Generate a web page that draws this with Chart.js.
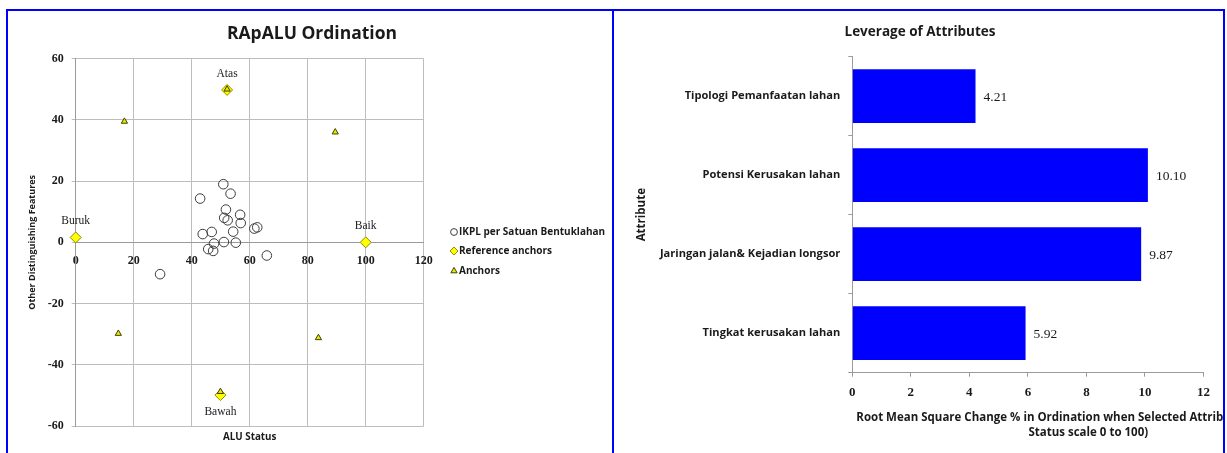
<!DOCTYPE html>
<html>
<head>
<meta charset="utf-8">
<title>RApALU</title>
<script src="https://cdn.jsdelivr.net/npm/chart.js@4.4.1/dist/chart.umd.min.js"></script>
<style>
  body { margin: 0; background: #fff; width: 1227px; height: 453px; overflow: hidden; position: relative; }
  .panel { position: absolute; top: 9px; height: 460px; border: 2px solid #0000ff; border-bottom: none; background: #fff; }
  #panelLeft { left: 6px; width: 604px; }
  #panelRight { left: 612px; width: 609px; }
  canvas { display: block; }
</style>
</head>
<body>
<div class="panel" id="panelLeft"><canvas id="ordinationChart" width="604" height="442"></canvas></div>
<div class="panel" id="panelRight"><canvas id="leverageChart" width="609" height="442"></canvas></div>
<script>
// --- Ordinasi RApALU ---
var ikplX = [50.9, 53.4, 42.9, 51.8, 56.7, 51.2, 52.4, 56.9, 61.6, 62.6, 43.8, 46.9, 54.3, 47.7, 51.1, 55.2, 45.7, 47.4, 65.9, 29.1];
var ikplY = [19.0, 15.9, 14.3, 10.7, 9.0, 8.0, 7.2, 6.3, 4.5, 4.9, 2.7, 3.4, 3.5, -0.4, 0.1, -0.1, -2.2, -2.8, -4.3, -10.4];
var refNames = ['Buruk', 'Baik', 'Atas', 'Bawah'];
var refX = [0, 100, 52.2, 49.9];
var refY = [1.6, 0, 49.8, -49.9];
var anchorX = [16.8, 89.5, 14.7, 83.7, 52.2, 49.9];
var anchorY = [39.5, 36.0, -29.8, -31.2, 50.0, -48.8];
var xRange = [0, 120];
var yRange = [-60, 60];
var ordStep = 20;

// --- Leverage of attributes ---
var attributes = ['Tipologi Pemanfaatan lahan', 'Potensi Kerusakan lahan', 'Jaringan jalan& Kejadian longsor', 'Tingkat kerusakan lahan'];
var leverage = [4.21, 10.10, 9.87, 5.92];
var levRange = [0, 12];
var levStep = 2;

var SANS = '"Open Sans", Lato, sans-serif';
var SERIF = '"Liberation Serif", "DejaVu Serif", serif';
var TEXT = '#1a1a1a';
var GRID = '#bdbdbd';
var AXIS = '#9a9a9a';

function toPoints(xs, ys) {
    return xs.map(function(x, i) { return { x: x, y: ys[i] }; });
}

function setStyle(ctx, ds) {
    ctx.fillStyle = ds.backgroundColor;
    ctx.strokeStyle = ds.borderColor;
    ctx.lineWidth = ds.borderWidth;
}

// judul, label sumbu, legenda dan label anchor
var ordinationText = {
    id: 'ordinationText',
    afterDraw: function(chart) {
        var ctx = chart.ctx;
        var area = chart.chartArea;
        ctx.save();
        ctx.fillStyle = TEXT;
        ctx.textAlign = 'center';
        ctx.textBaseline = 'middle';

        ctx.font = 'bold 17.5px ' + SANS;
        ctx.fillText('RApALU Ordination', chart.width / 2 + 2, 23);

        ctx.font = 'bold 9.8px ' + SANS;
        ctx.fillText('ALU Status', (area.left + area.right) / 2, area.bottom + 11);

        ctx.save();
        ctx.translate(24, (area.top + area.bottom) / 2);
        ctx.rotate(-Math.PI / 2);
        ctx.font = 'bold 9px ' + SANS;
        ctx.fillText('Other Distinguishing Features', 0, 0);
        ctx.restore();

        // label anchor referensi
        var meta = chart.getDatasetMeta(1);
        meta.data.forEach(function(el, i) {
            var below = refY[i] < -40;
            ctx.font = '11.5px ' + SERIF;
            ctx.fillText(refNames[i], el.x, below ? el.y + 17 : el.y - 16);
        });

        // legenda
        var legendX = 446;
        var legendY = [221, 240, 260];
        var legendR = [3.4, 4, 3.6];
        chart.data.datasets.forEach(function(ds, i) {
            setStyle(ctx, ds);
            Chart.helpers.drawPoint(ctx, { pointStyle: ds.pointStyle, radius: legendR[i], borderWidth: ds.borderWidth, rotation: 0 }, legendX, legendY[i]);
            ctx.fillStyle = TEXT;
            ctx.textAlign = 'left';
            ctx.font = 'bold 10px ' + SANS;
            ctx.fillText(ds.label, legendX + 5, legendY[i] + 0.5);
        });
        ctx.restore();
    }
};

new Chart(document.getElementById('ordinationChart'), {
    type: 'scatter',
    data: {
        datasets: [{
            label: 'IKPL per Satuan Bentuklahan',
            data: toPoints(ikplX, ikplY),
            order: 2,
            pointStyle: 'circle',
            pointRadius: 4.8,
            backgroundColor: 'rgba(0,0,0,0)',
            borderColor: '#3c3c3c',
            borderWidth: 1
        }, {
            label: 'Reference anchors',
            data: toPoints(refX, refY),
            order: 1,
            pointStyle: 'rectRot',
            pointRadius: 5.5,
            backgroundColor: '#ffff00',
            borderColor: '#8c8c00',
            borderWidth: 1
        }, {
            label: 'Anchors',
            data: toPoints(anchorX, anchorY),
            order: 0,
            pointStyle: 'triangle',
            pointRadius: 3.6,
            backgroundColor: '#e8e800',
            borderColor: '#404000',
            borderWidth: 1
        }]
    },
    options: {
        responsive: false,
        animation: false,
        clip: false,
        layout: { padding: { left: 0, right: 188.3, top: 47.7, bottom: 27 } },
        plugins: { legend: { display: false }, tooltip: { enabled: false } },
        scales: {
            x: {
                type: 'linear',
                position: { y: 0 },
                min: xRange[0],
                max: xRange[1],
                ticks: { stepSize: ordStep, padding: 11, color: TEXT, font: { family: SERIF, size: 12, weight: 'bold' } },
                grid: { color: GRID, drawTicks: false },
                border: { color: AXIS }
            },
            y: {
                type: 'linear',
                position: 'left',
                min: yRange[0],
                max: yRange[1],
                ticks: { stepSize: ordStep, padding: 8, color: TEXT, font: { family: SERIF, size: 12, weight: 'bold' } },
                grid: { color: GRID, tickLength: 4 },
                border: { color: AXIS },
                afterFit: function(scale) { scale.width = 67.7; }
            }
        }
    },
    plugins: [ordinationText]
});

// judul, judul sumbu X (dua baris) dan nilai di ujung batang
var leverageText = {
    id: 'leverageText',
    afterDraw: function(chart) {
        var ctx = chart.ctx;
        var area = chart.chartArea;
        ctx.save();
        ctx.fillStyle = TEXT;
        ctx.textBaseline = 'middle';

        ctx.textAlign = 'center';
        ctx.font = 'bold 13.5px ' + SANS;
        ctx.fillText('Leverage of Attributes', 306, 21);

        ctx.font = 'bold 11.5px ' + SANS;
        ctx.textAlign = 'left';
        ctx.fillText('Root Mean Square Change % in Ordination when Selected Attribute Removed (on', area.left + 4, area.bottom + 45);
        ctx.textAlign = 'center';
        ctx.fillText('Status scale 0 to 100)', area.left + 236, area.bottom + 60.5);

        ctx.textAlign = 'left';
        ctx.font = '13.5px ' + SERIF;
        chart.getDatasetMeta(0).data.forEach(function(el, i) {
            ctx.fillText(leverage[i].toFixed(2), el.x + 8, el.y + 1);
        });
        ctx.restore();
    }
};

new Chart(document.getElementById('leverageChart'), {
    type: 'bar',
    data: {
        labels: attributes,
        datasets: [{
            data: leverage,
            backgroundColor: '#0000ff',
            borderWidth: 0,
            barPercentage: 0.68,
            categoryPercentage: 1
        }]
    },
    options: {
        indexAxis: 'y',
        responsive: false,
        animation: false,
        layout: { padding: { left: 0, right: 19.5, top: 45.7, bottom: 0 } },
        plugins: { legend: { display: false }, tooltip: { enabled: false } },
        scales: {
            x: {
                min: levRange[0],
                max: levRange[1],
                ticks: { stepSize: levStep, padding: 8, color: TEXT, font: { family: SERIF, size: 13, weight: 'bold' } },
                grid: { drawOnChartArea: false, tickLength: 4, color: AXIS },
                border: { color: AXIS },
                afterFit: function(scale) { scale.height = 80.3; }
            },
            y: {
                ticks: { padding: 8, color: TEXT, font: { family: SANS, size: 11.1, weight: 'bold' } },
                grid: { offset: true, drawOnChartArea: false, tickLength: 4, color: AXIS },
                border: { color: AXIS },
                title: { display: true, text: 'Attribute', color: TEXT, font: { family: SANS, size: 11.5, weight: 'bold' }, padding: { top: 21, bottom: 0 } },
                afterFit: function(scale) { scale.width = 238.3; }
            }
        }
    },
    plugins: [leverageText]
});
</script>
</body>
</html>
